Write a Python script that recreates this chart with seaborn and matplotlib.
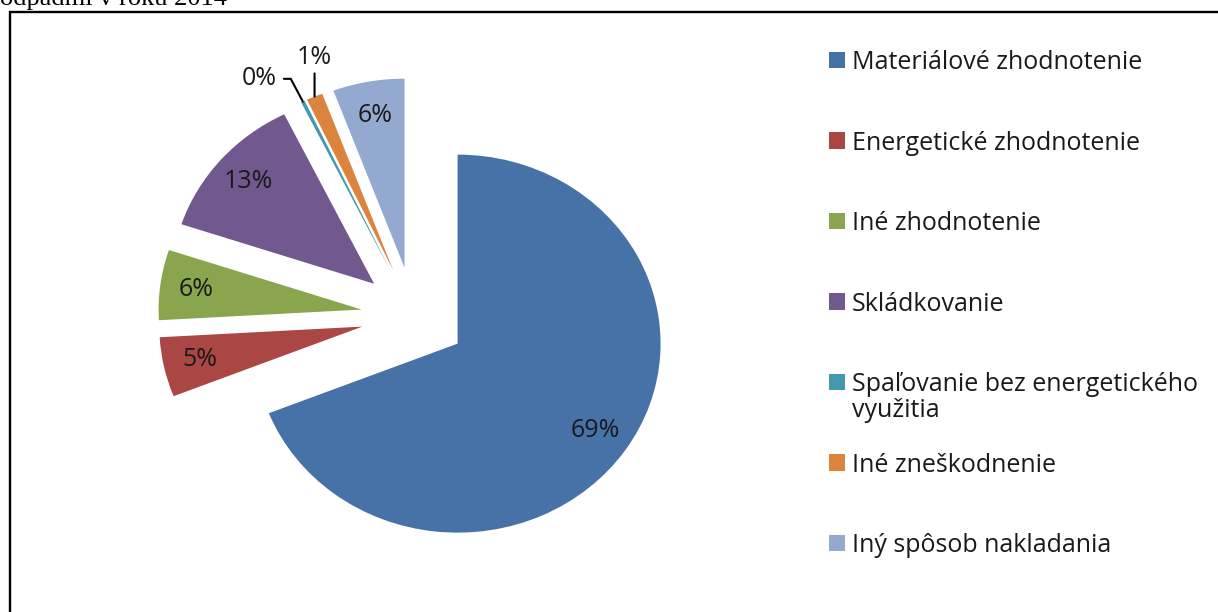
import matplotlib
matplotlib.use('Agg')
import matplotlib.pyplot as plt
import matplotlib.patches as mpatches
import numpy as np
import seaborn as sns

categories = [
    'Materiálové zhodnotenie',
    'Energetické zhodnotenie',
    'Iné zhodnotenie',
    'Skládkovanie',
    'Spaľovanie bez energetického\nvyužitia',
    'Iné zneškodnenie',
    'Iný spôsob nakladania',
]
shares = [69.0, 5.1, 6.0, 12.6, 0.3, 1.3, 5.7]
colors = ['#4672A8', '#AA4643', '#89A54E', '#71588F', '#4198AF', '#DB843D', '#93A9CF']
outside = [4, 5]  # small slices labelled outside with leader lines

sns.set_theme(style='white')
plt.rcParams['font.family'] = ['Open Sans', 'DejaVu Sans']
palette = sns.color_palette(colors)
txt = '#1a1a1a'
fs = 18

fig = plt.figure(figsize=(12.18, 6.12), dpi=100)
ax = fig.add_axes([0, 0, 1, 1])

wedges, texts, autotexts = ax.pie(
    shares, colors=palette, startangle=90, counterclock=False,
    explode=[0.26] * len(shares), radius=1.0,
    autopct='%1.0f%%', pctdistance=0.82,
    wedgeprops=dict(linewidth=0),
    textprops=dict(fontsize=fs, color=txt))

# excel chart was stretched horizontally in the source document
ax.set_aspect('auto')
ax.set_xlim(-2.039, -2.039 + 6.0)
ax.set_ylim(-1.566, -1.566 + 3.238)
ax.axis('off')

for i in outside:
    w = wedges[i]
    mid = np.deg2rad((w.theta1 + w.theta2) / 2)
    cx, cy = w.center
    tip = (cx + w.r * np.cos(mid), cy + w.r * np.sin(mid))
    autotexts[i].set_visible(False)
    if i == 5:
        ax.annotate(autotexts[i].get_text(), xy=tip, xytext=(tip[0], tip[1] + 0.14),
                    ha='center', va='bottom', fontsize=fs, color=txt,
                    arrowprops=dict(arrowstyle='-', color='black', lw=1.5,
                                    shrinkA=0, shrinkB=0))
    else:
        ax.annotate(autotexts[i].get_text(), xy=tip, xytext=(tip[0] - 0.13, tip[1] + 0.12),
                    ha='right', va='center', fontsize=fs, color=txt,
                    arrowprops=dict(arrowstyle='-', color='black', lw=1.5,
                                    relpos=(1, 0.5), shrinkA=3, shrinkB=0,
                                    connectionstyle='angle,angleA=0,angleB=118,rad=0'))

# excel keeps every legend row the same height, the wrapped label just hangs below
first_lines = [c.split('\n')[0] for c in categories]
leg = ax.legend(wedges, first_lines, loc='upper left', bbox_to_anchor=(0.6806, 0.9183),
                frameon=False, fontsize=fs, handlelength=0.64, handleheight=0.64,
                handletextpad=0.28, labelspacing=2.22, borderpad=0, borderaxespad=0)
for t, c in zip(leg.get_texts(), categories):
    t.set_color(txt)
    if '\n' in c:
        ax.annotate(c.split('\n', 1)[1], xy=(0, 0), xycoords=t, xytext=(0, -26),
                    textcoords='offset pixels', ha='left', va='bottom',
                    fontsize=fs, color=txt, zorder=6)

fig.text(0.0, 1 - 5 / 612, 'odpadmi v roku 2014', va='baseline', ha='left',
         family='Liberation Serif', fontsize=19, color='black')
fig.add_artist(mpatches.Rectangle((10 / 1218, -0.1), 1.2, 1.1 - 12 / 612, fill=False,
                                  edgecolor='black', lw=1.7, transform=fig.transFigure))

fig.savefig('out.png', dpi=100)
